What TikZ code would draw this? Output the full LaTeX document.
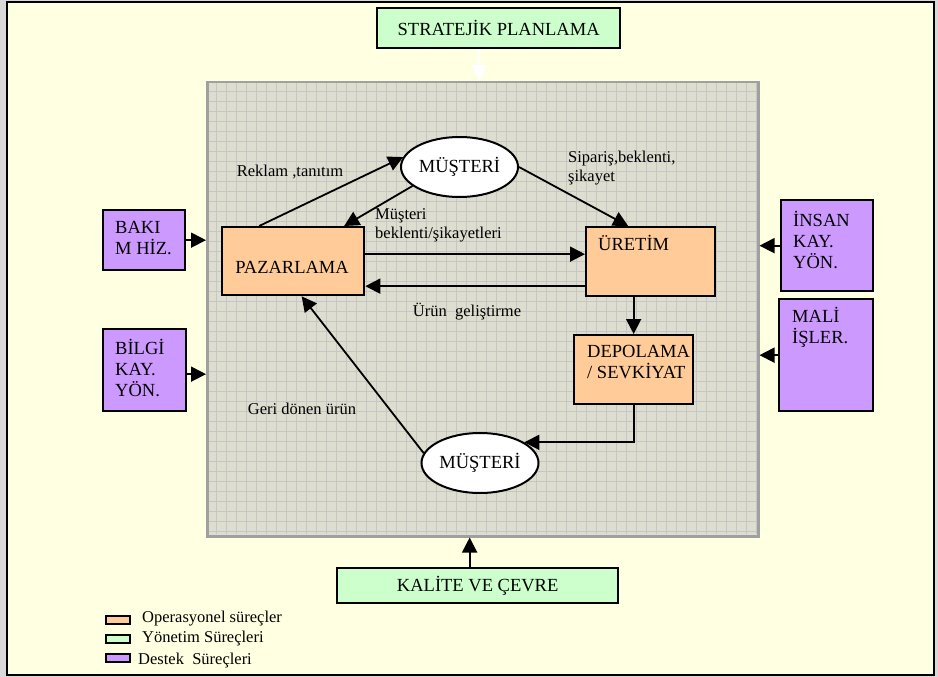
\documentclass[tikz,border=0pt]{standalone}
\usepackage{fontspec}
\setmainfont{Liberation Serif}
\usetikzlibrary{arrows.meta,shapes.geometric,calc}

\definecolor{paper}{RGB}{255,255,225}
\definecolor{opfill}{RGB}{255,204,153}
\definecolor{mgfill}{RGB}{204,255,204}
\definecolor{spfill}{RGB}{204,153,255}
\definecolor{corefill}{RGB}{221,221,208}
\definecolor{coregrid}{RGB}{198,198,194}
\definecolor{coreedge}{RGB}{160,160,160}

\tikzset{
  bigtxt/.style={font=\fontsize{18.5}{21}\selectfont, inner sep=0pt},
  smalltxt/.style={font=\fontsize{16.5}{19.5}\selectfont, inner sep=0pt},
  procbox/.style={draw=black, line width=2.3pt, inner sep=0pt, anchor=north west},
  opbox/.style={procbox, fill=opfill},
  mgbox/.style={procbox, fill=mgfill, bigtxt},
  spbox/.style={procbox, fill=spfill},
  cust/.style={ellipse, draw=black, line width=2pt, fill=white, inner sep=0pt,
               minimum width=117pt, minimum height=60pt, bigtxt},
  conn/.style={line width=1.8pt, -{Triangle[length=15pt,width=15pt]}},
  whiteconn/.style={white, line width=2pt, -{Triangle[length=16pt,width=15pt,fill=white]}},
  keybox/.style={draw=black, line width=1.8pt, inner sep=0pt, anchor=north west,
                 minimum width=24pt, minimum height=8pt},
}

\begin{document}
\begin{tikzpicture}[x=1pt, y=-1pt]
  \useasboundingbox (0,0) rectangle (938,677);
  \fill[gray!30] (0,0) rectangle (938,677);
  \draw[line width=2.6pt, fill=paper] (7,2) rectangle (934,675);

  % gridded core area
  \fill[corefill] (206,81) rectangle (757,535);
  \foreach \gx in {216,226,...,756} \draw[coregrid, line width=0.9pt] (\gx,82) -- (\gx,534);
  \foreach \gy in {91,101,...,531} \draw[coregrid, line width=0.9pt] (207,\gy) -- (756,\gy);
  \node[draw=coreedge, line width=2.5pt, inner sep=0pt, anchor=north west,
        minimum width=551pt, minimum height=454pt] (core) at (206,81) {};

  % management processes
  \node[mgbox, minimum width=243pt, minimum height=40pt] (str) at (376,7) {STRATEJİK PLANLAMA};
  \node[mgbox, minimum width=281pt, minimum height=35pt] (kal) at (336,567) {KALİTE VE ÇEVRE};

  % operational processes
  \node[opbox, minimum width=142pt, minimum height=68pt] (paz) at (221,226) {};
  \node[bigtxt] (pazt) at (292,267) {PAZARLAMA};
  \node[opbox, minimum width=129pt, minimum height=69pt] (ure) at (585,226) {};
  \node[bigtxt, anchor=west] (uret) at (598,243) {ÜRETİM};
  \node[opbox, minimum width=119pt, minimum height=69pt] (dep) at (573,334) {};
  \node[bigtxt, anchor=west, align=left] (dept) at (587,362.5) {DEPOLAMA\\/ SEVKİYAT};

  % customers
  \node[cust] (mt) at (459.5,167) {MÜŞTERİ};
  \node[cust] (mb) at (480,463) {MÜŞTERİ};

  % support processes
  \node[spbox, minimum width=82pt, minimum height=60pt] (bak) at (102,209) {};
  \node[bigtxt, anchor=west, align=left] (bakt) at (115,238) {BAKI\\M HİZ.};
  \node[spbox, minimum width=83pt, minimum height=82pt] (bil) at (102,328) {};
  \node[bigtxt, anchor=west, align=left] (bilt) at (115,367.5) {BİLGİ\\KAY.\\YÖN.};
  \node[spbox, minimum width=92pt, minimum height=91pt] (ins) at (780,199) {};
  \node[bigtxt, anchor=west, align=left] (inst) at (793,239.5) {İNSAN\\KAY.\\YÖN.};
  \node[spbox, minimum width=94pt, minimum height=112pt] (mal) at (778,298) {};
  \node[bigtxt, anchor=west, align=left] (malt) at (792,327.5) {MALİ\\İŞLER.};

  % flow labels
  \node[smalltxt] (lrek) at (290,172) {Reklam ,tanıtım};
  \node[smalltxt, anchor=west, align=left] (lbek) at (375,225.5) {Müşteri\\beklenti/şikayetleri};
  \node[smalltxt, anchor=west, align=left] (lsip) at (568,168) {Sipariş,beklenti,\\şikayet};
  \node[smalltxt] (lurn) at (467,312) {Ürün~ geliştirme};
  \node[smalltxt] (lger) at (302,409) {Geri dönen ürün};

  % flows
  \draw[conn] ([xshift=-34pt]paz.north) -- (mt.170);
  \draw[conn] (mt.202) -- ([xshift=51pt]paz.north);
  \draw[conn] (mt.east) -- ([xshift=-22.5pt]ure.north);
  \draw[conn] ([yshift=7pt]paz.east) -- ([yshift=7.5pt]ure.west);
  \draw[conn] ([yshift=-24.5pt]ure.west) -- ([yshift=-25pt]paz.east);
  \draw[conn] (ure.south -| dep.north) -- (dep.north);
  \draw[conn] (dep.south) |- (mb.25);
  \draw[conn] (mb.170) -- ([xshift=8.5pt]paz.south);

  % support inputs
  \draw[conn] (bak.east) -- (bak.east -| core.west);
  \draw[conn] ([yshift=-4pt]bil.east) -- ([yshift=-4pt]bil.east -| core.west);
  \draw[conn] (ins.west) -- (ins.west -| core.east);
  \draw[conn] (mal.west) -- (mal.west -| core.east);

  % management inputs
  \draw[whiteconn] ([xshift=-19.5pt]str.south) -- ([xshift=-19.5pt]str.south |- core.north);
  \draw[conn] ([xshift=-8pt]kal.north) -- ([xshift=-8pt]kal.north |- core.south);

  % legend
  \node[keybox, fill=opfill] (kop) at (105,615) {};
  \node[smalltxt, anchor=west] (kopt) at (142,619) {Operasyonel süreçler};
  \node[keybox, fill=mgfill] (kmg) at (105,634) {};
  \node[smalltxt, anchor=west] (kmgt) at (142,639) {Yönetim Süreçleri};
  \node[keybox, fill=spfill] (ksp) at (105,653) {};
  \node[smalltxt, anchor=west] (kspt) at (138,661) {Destek~ Süreçleri};
\end{tikzpicture}
\end{document}
